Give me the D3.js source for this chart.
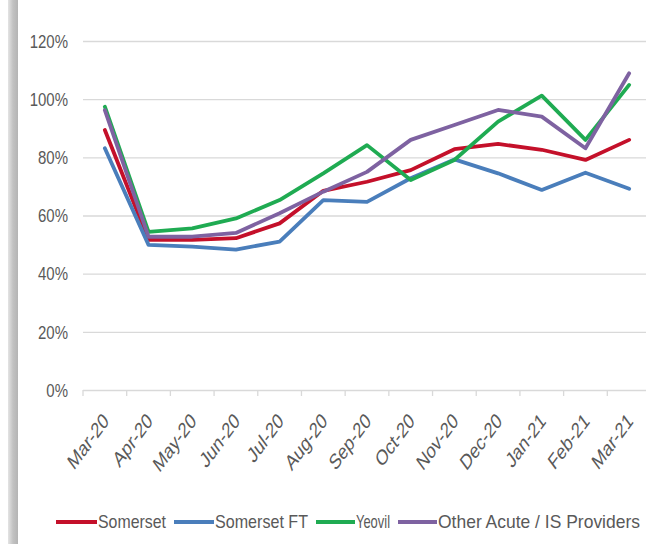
<!DOCTYPE html>
<html>
<head>
<meta charset="utf-8">
<script src="https://cdn.jsdelivr.net/npm/d3@7"></script>
<style>
  html, body { margin: 0; padding: 0; background: #ffffff; }
  svg { display: block; }
  text { font-family: "Liberation Sans", Arial, sans-serif; fill: #595959; }
</style>
</head>
<body>
<svg id="chart" width="646" height="544"></svg>
<script>
const categories = ["Mar-20","Apr-20","May-20","Jun-20","Jul-20","Aug-20","Sep-20","Oct-20","Nov-20","Dec-20","Jan-21","Feb-21","Mar-21"];
const somerset   = [0.894,0.516,0.516,0.522,0.573,0.685,0.716,0.756,0.828,0.846,0.826,0.791,0.860];
const somersetFT = [0.831,0.499,0.493,0.483,0.510,0.653,0.647,0.728,0.793,0.745,0.688,0.747,0.692];
const yeovil     = [0.974,0.544,0.556,0.590,0.653,0.745,0.842,0.722,0.791,0.923,1.012,0.860,1.049];
const otherAcute = [0.962,0.527,0.527,0.540,0.608,0.682,0.750,0.860,0.911,0.963,0.940,0.831,1.089];
const seriesNames = ["Somerset","Somerset FT","Yeovil","Other Acute / IS Providers"];
const seriesColors = ["#c4102a","#4a7ebb","#1fab52","#7e62a1"];
const yTicks = [0,0.2,0.4,0.6,0.8,1.0,1.2];

const series = [somerset, somersetFT, yeovil, otherAcute].map((v,i) => ({name: seriesNames[i], color: seriesColors[i], values: v}));

const svg = d3.select("#chart");

// left grey frame edge
const defs = svg.append("defs");
const grad = defs.append("linearGradient").attr("id","edge").attr("x1","0").attr("x2","1");
grad.append("stop").attr("offset","0").attr("stop-color","#e4e4e4");
grad.append("stop").attr("offset","0.5").attr("stop-color","#c2c2c2");
grad.append("stop").attr("offset","1").attr("stop-color","#b4b4b4");
svg.append("rect").attr("x",8).attr("y",0).attr("width",10).attr("height",544).attr("fill","url(#edge)");

const plotLeft = 83, plotRight = 651, plotTop = 41, plotBottom = 390;
const x = d3.scaleBand().domain(categories).range([plotLeft, plotRight]);
const cx = c => x(c) + x.bandwidth()/2;
const y = d3.scaleLinear().domain([0,1.2]).range([plotBottom, plotTop]);

// gridlines
svg.append("g")
  .attr("transform", `translate(${plotLeft},0)`)
  .call(d3.axisLeft(y).tickValues(yTicks).tickSize(-(plotRight-plotLeft)).tickFormat(""))
  .call(g => g.select(".domain").remove())
  .call(g => g.selectAll("line").attr("stroke","#d9d9d9").attr("stroke-width",1.3));

// y labels
svg.append("g")
  .attr("transform", `translate(${plotLeft},0)`)
  .call(d3.axisLeft(y).tickValues(yTicks).tickSize(0).tickPadding(15).tickFormat(d3.format(".0%")))
  .call(g => g.select(".domain").remove())
  .call(g => g.selectAll("text")
      .attr("font-size",15)
      .attr("x",0)
      .attr("dy","0.35em")
      .attr("transform","translate(-15,0) scale(1,1.2)")
      .style("fill","#595959"));

// x axis ticks at band boundaries
const boundaries = categories.map(c => x(c)).concat([plotRight]);
svg.append("g").selectAll("line").data(boundaries).join("line")
  .attr("x1", d => d).attr("x2", d => d)
  .attr("y1", plotBottom).attr("y2", plotBottom + 6)
  .attr("stroke","#d9d9d9").attr("stroke-width",1.3);

// x labels
svg.append("g")
  .attr("transform", `translate(0,${plotBottom})`)
  .call(d3.axisBottom(x).tickSize(0).tickFormat(d => d))
  .call(g => g.select(".domain").remove())
  .call(g => g.selectAll("text")
      .attr("font-size",16)
      .attr("text-anchor","end")
      .attr("y",0)
      .attr("dy","0.35em")
      .attr("transform","translate(1,27) scale(1,1.35) rotate(-45)")
      .style("fill","#595959"));

// lines
const line = d3.line().x((d,i) => cx(categories[i])).y(d => y(d));
svg.append("g").selectAll("path").data(series).join("path")
  .attr("d", d => line(d.values))
  .attr("fill","none")
  .attr("stroke", d => d.color)
  .attr("stroke-width",3.8)
  .attr("stroke-linejoin","round")
  .attr("stroke-linecap","round");

// legend
const legendLayout = [
  {x: 56,  tx: 98,  w: 68},
  {x: 174, tx: 215, w: 93},
  {x: 316, tx: 356, w: 34},
  {x: 398, tx: 438, w: 202}
];
const legendY = 522;
const lg = svg.append("g");
series.forEach((s,i) => {
  const L = legendLayout[i];
  lg.append("line").attr("x1", L.x).attr("x2", L.tx - 1)
    .attr("y1", legendY).attr("y2", legendY).attr("stroke", s.color).attr("stroke-width",4);
  lg.append("text").attr("x", 0).attr("y", 0).attr("dy","0.35em")
    .attr("transform", `translate(${L.tx},${legendY}) scale(1,1.15)`)
    .attr("font-size",16)
    .attr("textLength", L.w).attr("lengthAdjust","spacingAndGlyphs")
    .text(s.name);
});
</script>
</body>
</html>
